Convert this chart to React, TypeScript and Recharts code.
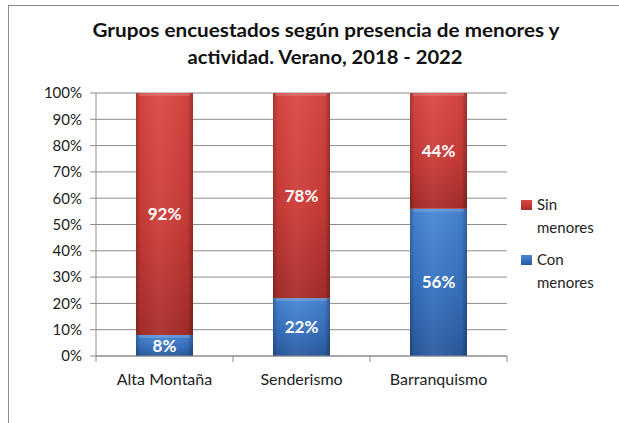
import React from 'react';
import { Bar, BarChart, CartesianGrid, LabelList, XAxis, YAxis } from 'recharts';

const categories = ['Alta Montaña', 'Senderismo', 'Barranquismo'];
const conMenores = [8, 22, 56];
const sinMenores = [92, 78, 44];
const yTicks = [0, 10, 20, 30, 40, 50, 60, 70, 80, 90, 100];
const titleLines = ['Grupos encuestados según presencia de menores y', 'actividad. Verano, 2018  - 2022'];
const seriesNames = { sin: 'Sin menores', con: 'Con menores' };

const data = categories.map((name, i) => ({ name, con: conMenores[i], sin: sinMenores[i] }));

const W = 619;
const H = 423;
const PLOT_LEFT = 96;
const PLOT_RIGHT = 507;
const BAND = (PLOT_RIGHT - PLOT_LEFT) / categories.length;
const FONT = 'Lato, "Open Sans", sans-serif';

const makeShape = (id: string) => (props: any) => {
  const { x, y, width, height } = props;
  if (!height || height <= 0) return <g />;
  return (
    <g>
      <rect x={x} y={y} width={width} height={height} fill={`url(#v-${id})`} />
      <rect x={x} y={y} width={width} height={height} fill="url(#h-shade)" />
      <rect x={x + 3} y={y} width={width - 6} height={Math.min(3, height)} fill="#fff" opacity={0.15} />
    </g>
  );
};

const XTick = (props: any) => {
  const { x, y, payload, index } = props;
  const left = x - BAND / 2;
  const right = x + BAND / 2;
  return (
    <g>
      <line x1={left} y1={y} x2={left} y2={y + 6} stroke="#8c8c8c" />
      {index === categories.length - 1 && <line x1={right} y1={y} x2={right} y2={y + 6} stroke="#8c8c8c" />}
      <text x={x} y={y + 29} textAnchor="middle" fontSize={16} fill="#222" fontFamily={FONT}>
        {payload.value}
      </text>
    </g>
  );
};

const LegendItem = ({ label, from, to, top }: { label: string; from: string; to: string; top: number }) => {
  const [first, second] = label.split(' ');
  return (
    <div style={{ position: 'absolute', left: 521, top, fontFamily: FONT, fontSize: 15, color: '#222', lineHeight: '23px' }}>
      <div style={{ position: 'absolute', left: 0, top: 7, width: 11, height: 10, background: `linear-gradient(${from}, ${to})` }} />
      <div style={{ paddingLeft: 16 }}>{first}</div>
      <div style={{ paddingLeft: 16 }}>{second}</div>
    </div>
  );
};

export default function App() {
  return (
    <div style={{ position: 'absolute', left: 0, top: 0, width: W, height: H, overflow: 'hidden', background: '#fff' }}>
      <div style={{ position: 'absolute', left: 8, top: 5, width: 800, height: 600, borderTop: '1px solid #8c8c8c', borderLeft: '1px solid #8c8c8c' }} />
      <svg width={W} height={80} style={{ position: 'absolute', left: 0, top: 0 }}>
        <text x={326} y={37} textAnchor="middle" fontSize={19} fontWeight="bold" fill="#111" fontFamily={FONT} textLength={467} lengthAdjust="spacingAndGlyphs">
          {titleLines[0]}
        </text>
        <text x={325} y={64} textAnchor="middle" fontSize={19} fontWeight="bold" fill="#111" fontFamily={FONT} textLength={275} lengthAdjust="spacingAndGlyphs">
          {titleLines[1]}
        </text>
      </svg>
      <div style={{ position: 'absolute', left: 0, top: 0 }}>
        <BarChart width={W} height={H} data={data} margin={{ top: 93, right: W - PLOT_RIGHT, bottom: 37, left: 0 }} barSize={57}>
          <defs>
            <linearGradient id="v-sin" x1="0" y1="0" x2="0" y2="1">
              <stop offset="0%" stopColor="#dc4844" />
              <stop offset="55%" stopColor="#cc3c38" />
              <stop offset="100%" stopColor="#a82e2a" />
            </linearGradient>
            <linearGradient id="v-con" x1="0" y1="0" x2="0" y2="1">
              <stop offset="0%" stopColor="#4887d6" />
              <stop offset="55%" stopColor="#3872c0" />
              <stop offset="100%" stopColor="#2b5ba0" />
            </linearGradient>
            <linearGradient id="h-shade" x1="0" y1="0" x2="1" y2="0">
              <stop offset="0%" stopColor="#000" stopOpacity={0.25} />
              <stop offset="8%" stopColor="#000" stopOpacity={0.05} />
              <stop offset="40%" stopColor="#fff" stopOpacity={0.05} />
              <stop offset="90%" stopColor="#000" stopOpacity={0.05} />
              <stop offset="100%" stopColor="#000" stopOpacity={0.3} />
            </linearGradient>
          </defs>
          <CartesianGrid vertical={false} horizontal stroke="#8c8c8c" />
          <XAxis
            dataKey="name"
            height={30}
            axisLine={{ stroke: '#8c8c8c' }}
            tickLine={false}
            tickSize={0}
            tickMargin={0}
            tick={<XTick />}
            interval={0}
          />
          <YAxis
            width={PLOT_LEFT}
            domain={[0, 100]}
            ticks={yTicks}
            tickFormatter={(v) => `${v}%`}
            axisLine={{ stroke: '#8c8c8c' }}
            tickLine={{ stroke: '#8c8c8c' }}
            tickSize={6}
            tickMargin={8}
            tick={{ fontSize: 15, fill: '#222', fontFamily: FONT }}
          />
          <Bar dataKey="con" stackId="a" name={seriesNames.con} shape={makeShape('con')} isAnimationActive={false}>
            <LabelList dataKey="con" position="center" formatter={(v: any) => `${v}%`} fill="#fff" fontSize={17} fontWeight="bold" fontFamily={FONT} />
          </Bar>
          <Bar dataKey="sin" stackId="a" name={seriesNames.sin} shape={makeShape('sin')} isAnimationActive={false}>
            <LabelList dataKey="sin" position="center" formatter={(v: any) => `${v}%`} fill="#fff" fontSize={17} fontWeight="bold" fontFamily={FONT} />
          </Bar>
        </BarChart>
      </div>
      <LegendItem label={seriesNames.sin} from="#dc4844" to="#a82e2a" top={193} />
      <LegendItem label={seriesNames.con} from="#4887d6" to="#2b5ba0" top={248} />
    </div>
  );
}
